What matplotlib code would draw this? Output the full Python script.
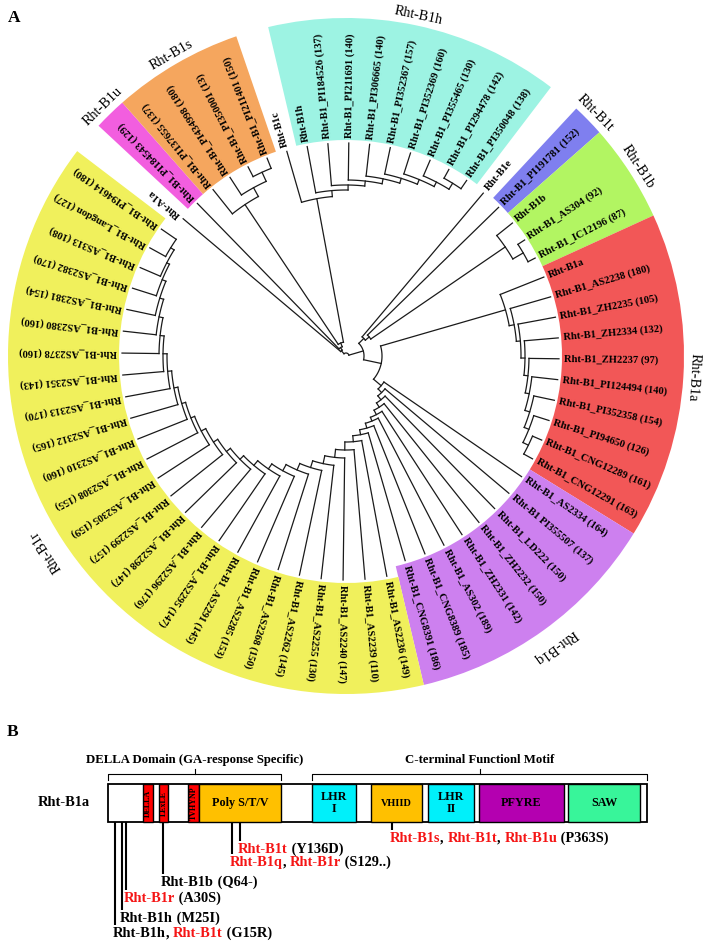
import numpy as np
import matplotlib.pyplot as plt
from matplotlib.patches import Wedge, Rectangle

plt.rcParams['font.family'] = ['Liberation Serif', 'DejaVu Serif']

# ---------------- Panel A: circular tree ----------------
# leaves in clockwise order, starting at Rht-A1a (upper left)
leaf_names = [
    "Rht-A1a", "Rht-B1_PI184543 (129)",
    "Rht-B1_PI137655 (137)", "Rht-B1_PI434998 (180)", "Rht-B1_PI350001 (13)", "Rht-B1_PI211401 (150)",
    "Rht-B1c",
    "Rht-B1h", "Rht-B1_PI184526 (137)", "Rht-B1_PI211691 (140)", "Rht-B1_PI306665 (140)",
    "Rht-B1_PI352367 (157)", "Rht-B1_PI352369 (160)", "Rht-B1_PI355465 (130)",
    "Rht-B1_PI294478 (142)", "Rht-B1_PI350048 (138)",
    "Rht-B1e",
    "Rht-B1_PI191781 (152)",
    "Rht-B1b", "Rht-B1_AS304 (92)", "Rht-B1_IC12196 (87)",
    "Rht-B1a", "Rht-B1_AS2238 (180)", "Rht-B1_ZH2235 (105)", "Rht-B1_ZH2334 (132)",
    "Rht-B1_ZH2237 (97)", "Rht-B1_PI124494 (140)", "Rht-B1_PI352358 (154)",
    "Rht-B1_PI94650 (126)", "Rht-B1_CNG12289 (161)", "Rht-B1_CNG12291 (163)",
    "Rht-B1_AS2334 (164)", "Rht-B1 PI355507 (137)", "Rht-B1_LD222 (150)", "Rht-B1_ZH2232 (150)",
    "Rht-B1_ZH2331 (142)", "Rht-B1_AS302 (189)", "Rht-B1_CNG8389 (185)", "Rht-B1_CNG8391 (186)",
    "Rht-B1_AS2236 (149)", "Rht-B1_AS2239 (110)", "Rht-B1_AS2240 (147)", "Rht-B1_AS2255 (130)",
    "Rht-B1_AS2262 (145)", "Rht-B1_AS2268 (150)", "Rht-B1_AS2285 (153)", "Rht-B1_AS2291 (145)",
    "Rht-B1_AS2295 (147)", "Rht-B1_AS2296 (176)", "Rht-B1_AS2298 (147)", "Rht-B1_AS2299 (157)",
    "Rht-B1_AS2305 (159)", "Rht-B1_AS2308 (155)", "Rht-B1_AS2310 (160)", "Rht-B1_AS2312 (165)",
    "Rht-B1_AS2313 (170)", "Rht-B1_AS2351 (143)", "Rht-B1_AS2378 (160)", "Rht-B1_AS2380 (160)",
    "Rht-B1_AS2381 (154)", "Rht-B1_AS2382 (170)", "Rht-B1_AS313 (108)", "Rht-B1_Langdon (127)",
    "Rht-B1_PI94614 (180)",
]

# consecutive runs of leaves ("" = no colour band)
clade_names = ["", "Rht-B1u", "Rht-B1s", "", "Rht-B1h", "", "Rht-B1t", "Rht-B1b", "Rht-B1a", "Rht-B1q", "Rht-B1r"]
clade_sizes = [1, 1, 4, 1, 9, 1, 1, 3, 10, 8, 25]
clade_colors = {
    "Rht-B1u": "#F25EDF", "Rht-B1s": "#F5A65E", "Rht-B1h": "#9DF3E3",
    "Rht-B1t": "#7F7FEF", "Rht-B1b": "#B2F562", "Rht-B1a": "#F25757",
    "Rht-B1q": "#CD80EF", "Rht-B1r": "#F0F05C",
}

# tree topology: parent node of every leaf, parent / radius of each internal node
leaf_parent = [1, 2, 4, 5, 6, 6, 7, 8, 9, 10, 11, 12, 13, 14, 15, 15,
               17, 18, 19, 20, 20,
               22, 23, 24, 25, 26, 27, 28, 29, 30, 30,
               31, 32, 33, 34, 35, 36, 37, 38, 39, 40, 41, 42, 43, 44, 45, 46,
               47, 48, 49, 50, 51, 52, 53, 54, 55, 56, 57, 58, 59, 60, 61, 62, 62]
node_parent = [-1, 0, 1, 2, 3, 4, 5, 3, 7, 8, 9, 10, 11, 12, 13, 14,
               0, 16, 17, 18, 19, 16,
               21, 22, 23, 24, 25, 26, 27, 28, 29,
               21, 31, 32, 33, 34, 35, 36, 37, 38, 39, 40, 41, 42, 43, 44, 45,
               46, 47, 48, 49, 50, 51, 52, 53, 54, 55, 56, 57, 58, 59, 60, 61]
node_radius = [3, 7, 10, 14, 182, 192, 202, 160, 166, 171, 176, 181, 186, 191, 196, 203,
               18, 25, 30, 193, 205, 36,
               166, 171, 175, 179, 183, 187, 192, 197, 203,
               46, 51, 56, 61, 66, 70, 75, 80,
               86, 94, 102, 110, 117, 124, 131, 137, 143, 148, 153, 158,
               163, 167, 171, 175, 179, 183, 187, 191, 195, 199, 202, 206]

# ---------------- Panel B: domain diagram ----------------
domain_names = ["DELLA", "LExLE", "TVHYNP", "Poly S/T/V", "LHR\nI", "VHIID", "LHR\nII", "PFYRE", "SAW"]
domain_start = [143, 159, 188, 199, 312, 371, 428, 479, 568]
domain_end = [153, 168, 199, 281, 356, 422, 474, 564, 640]
domain_colors = ["#FF0000", "#FF0000", "#FF0000", "#FFC000", "#00F0FA",
                 "#FFC000", "#00F0FA", "#B400B0", "#38F59A"]

brace_labels = ["DELLA Domain (GA-response Specific)", "C-terminal Functionl Motif"]
brace_start = [108, 312]
brace_end = [281, 647]

mut_x = [115, 122, 126, 163, 232, 240, 392]
mut_end = [925, 910, 890, 874, 854, 841, 830]
mut_labels = [
    ["Rht-B1h", ", ", "Rht-B1t", " (G15R)"],
    ["Rht-B1h", " (M25I)"],
    ["Rht-B1r", " (A30S)"],
    ["Rht-B1b", " (Q64-)"],
    ["Rht-B1q", ", ", "Rht-B1r", " (S129..)"],
    ["Rht-B1t", " (Y136D)"],
    ["Rht-B1s", ", ", "Rht-B1t", ", ", "Rht-B1u", " (P363S)"],
]
new_alleles = {"Rht-B1t", "Rht-B1r", "Rht-B1q", "Rht-B1s", "Rht-B1u"}

# ------------------------------------------------------------
fig = plt.figure(figsize=(7.09, 9.42), dpi=100)
ax = fig.add_axes([0, 0, 1, 1])
ax.set_xlim(0, 709)
ax.set_ylim(942, 0)
ax.axis('off')

cx, cy = 346, 356
step = 360.0 / len(leaf_names)
start = -49.875
bearing = start + step * np.arange(len(leaf_names))
r_out = 338


def polar(r, b):
    return cx + r * np.sin(np.radians(b)), cy - r * np.cos(np.radians(b))


# leaf -> clade
leaf_clade = []
for name, n in zip(clade_names, clade_sizes):
    leaf_clade += [name] * n

# colour bands + clade labels
i0 = 0
for name, n in zip(clade_names, clade_sizes):
    if name:
        b1 = bearing[i0] - step / 2
        b2 = bearing[i0 + n - 1] + step / 2
        r_in = 227 if name == "Rht-B1r" else 216
        ax.add_patch(Wedge((cx, cy), r_out, b1 - 90, b2 - 90, width=r_out - r_in,
                           fc=clade_colors[name], ec='none'))
        bm = (b1 + b2) / 2
        r_lab = 358 if name in ("Rht-B1q", "Rht-B1r") else 348
        x, y = polar(r_lab, bm)
        ax.text(x, y, name, rotation=-bm, rotation_mode='anchor',
                ha='center', va='center', fontsize=10.3)
    i0 += n

# node angles (mean of children), outer nodes first
n_nodes = len(node_parent)
children = [[] for _ in range(n_nodes)]
for k, p in enumerate(leaf_parent):
    children[p].append(('L', k))
for j, p in enumerate(node_parent):
    if p >= 0:
        children[p].append(('N', j))
node_angle = np.zeros(n_nodes)
for j in sorted(range(n_nodes), key=lambda j: -node_radius[j]):
    angs = [bearing[c] if t == 'L' else node_angle[c] for t, c in children[j]]
    node_angle[j] = np.mean(angs)

lc = '#1a1a1a'
lw = 0.9
# leaf branches + labels
for k, name in enumerate(leaf_names):
    r_in = 227 if leaf_clade[k] == "Rht-B1r" else 216
    tip = r_in - 3
    p = leaf_parent[k]
    xa, ya = polar(node_radius[p], bearing[k])
    xb, yb = polar(tip, bearing[k])
    ax.plot([xa, xb], [ya, yb], color=lc, lw=lw)
    xt, yt = polar(r_in + 2, bearing[k])
    ax.text(xt, yt, name, rotation=90 - bearing[k], rotation_mode='anchor',
            ha='left', va='center', fontsize=7.6, fontweight='bold')

# internal branches + arcs
for j in range(n_nodes):
    p = node_parent[j]
    if p >= 0:
        xa, ya = polar(node_radius[p], node_angle[j])
        xb, yb = polar(node_radius[j], node_angle[j])
        ax.plot([xa, xb], [ya, yb], color=lc, lw=lw)
    angs = [bearing[c] if t == 'L' else node_angle[c] for t, c in children[j]]
    bb = np.linspace(min(angs), max(angs), 60)
    xs, ys = polar(node_radius[j], bb)
    ax.plot(xs, ys, color=lc, lw=lw)

ax.text(8, 18, "A", fontsize=12.5, fontweight='bold', va='center')
ax.text(7, 732, "B", fontsize=12.5, fontweight='bold', va='center')

# ---------------- Panel B drawing ----------------
bx0, bx1, by0, by1 = 108, 647, 784, 822
ax.add_patch(Rectangle((bx0, by0), bx1 - bx0, by1 - by0, fc='white', ec='black', lw=1.3, zorder=2))
for name, s, e, c in zip(domain_names, domain_start, domain_end, domain_colors):
    ax.add_patch(Rectangle((s, by0), e - s, by1 - by0, fc=c, ec='black', lw=1.0, zorder=3))
    xm, ym = (s + e) / 2, (by0 + by1) / 2
    if e - s < 15:
        ax.text(xm, ym, name, rotation=90, ha='center', va='center', fontsize=5.8,
                fontweight='bold', zorder=4)
    else:
        fs = 7.4 if name == "VHIID" else 8.7
        ax.text(xm, ym, name, ha='center', va='center', fontsize=fs, fontweight='bold',
                linespacing=1.0, zorder=4)

ax.text(38, (by0 + by1) / 2, "Rht-B1a", ha='left', va='center', fontsize=10.4, fontweight='bold')

for lab, s, e in zip(brace_labels, brace_start, brace_end):
    yb = 774
    xm = (s + e) / 2
    ax.plot([s, s, e, e], [yb + 6, yb, yb, yb + 6], color='black', lw=0.8)
    ax.plot([xm, xm], [yb, yb - 5], color='black', lw=0.8)
    ax.text(xm, yb - 8, lab, ha='center', va='bottom', fontsize=9.2, fontweight='bold')

red = '#F51515'
for x, yend, parts in zip(mut_x, mut_end, mut_labels):
    ax.plot([x, x], [by1, yend], color='black', lw=1.5, solid_capstyle='butt')
    t = None
    for part in parts:
        col = red if part in new_alleles else 'black'
        if t is None:
            t = ax.text(x - 2, yend + 2, part, ha='left', va='top', fontsize=10.4,
                        fontweight='bold', color=col)
        else:
            t = ax.annotate(part, xy=(1, 1), xycoords=t, ha='left', va='top',
                            fontsize=10.4, fontweight='bold', color=col)

fig.savefig("out.png", dpi=100)
